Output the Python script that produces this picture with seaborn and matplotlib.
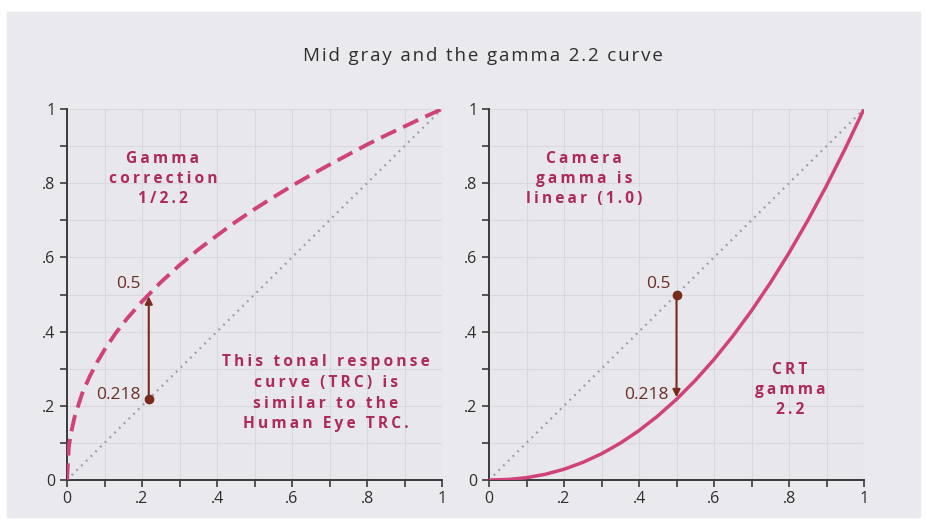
import matplotlib
matplotlib.use("Agg")
import matplotlib.pyplot as plt
import pandas as pd
import seaborn as sns
from matplotlib.patches import Rectangle

# gamma correction curve (1/2.2)
corr_x = [0, 0.005, 0.01, 0.02, 0.04, 0.06, 0.08, 0.1, 0.13, 0.16, 0.2, 0.25, 0.3, 0.35,
          0.4, 0.45, 0.5, 0.55, 0.6, 0.65, 0.7, 0.75, 0.8, 0.85, 0.9, 0.95, 1.0]
corr_y = [0, 0.090, 0.123, 0.169, 0.232, 0.278, 0.317, 0.351, 0.396, 0.435, 0.481, 0.533, 0.579, 0.621,
          0.659, 0.696, 0.730, 0.762, 0.793, 0.822, 0.850, 0.877, 0.904, 0.929, 0.953, 0.977, 1.0]

# CRT gamma 2.2 curve
crt_x = [0, 0.05, 0.1, 0.15, 0.2, 0.25, 0.3, 0.35, 0.4, 0.45, 0.5, 0.55, 0.6, 0.65,
         0.7, 0.75, 0.8, 0.85, 0.9, 0.95, 1.0]
crt_y = [0, 0.0014, 0.0063, 0.0154, 0.029, 0.0474, 0.0707, 0.0993, 0.1332, 0.1726, 0.2176, 0.2684,
         0.325, 0.3876, 0.4563, 0.5311, 0.6121, 0.6994, 0.7931, 0.8933, 1.0]

linear = [0, 1]
mid_in = 0.218
mid_out = 0.5

ticks = [0, 0.2, 0.4, 0.6, 0.8, 1.0]
tick_labels = ["0", ".2", ".4", ".6", ".8", "1"]
minor = [0.1, 0.3, 0.5, 0.7, 0.9]

title = "Mid gray and the gamma 2.2 curve"
left_note = "Gamma\ncorrection\n1/2.2"
trc_note = "This tonal response\ncurve (TRC) is\nsimilar to the\nHuman Eye TRC."
camera_note = "Camera\ngamma is\nlinear (1.0)"
crt_note = "CRT\ngamma\n2.2"

PINK = "#d0437a"
CRIMSON = "#ad2a5c"
BROWN = "#7a2c1c"
LABEL = "#6a2e22"
PANEL = "#eaeaee"
FONTS = ["Open Sans", "DejaVu Sans"]


def spaced(s, sep="\u2009"):
    # wide letter spacing like the slide
    return "\n".join(sep.join(line) for line in s.split("\n"))


sns.set_style("white")
plt.rcParams["font.family"] = FONTS
plt.rcParams["axes.facecolor"] = "#e8e8ec"

fig = plt.figure(figsize=(9.26, 5.24), dpi=100)
fig.patch.set_facecolor("white")
fig.patches.append(Rectangle((7 / 926, 7 / 524), 913 / 926, 505 / 524,
                             transform=fig.transFigure, color=PANEL, zorder=-10))

ax1 = fig.add_axes([67 / 926, 44 / 524, 375 / 926, 371 / 524])
ax2 = fig.add_axes([489 / 926, 44 / 524, 375 / 926, 371 / 524])

for ax in (ax1, ax2):
    ax.set_facecolor("#e8e8ec")
    ax.set_xlim(0, 1)
    ax.set_ylim(0, 1)
    ax.set_xticks(ticks)
    ax.set_xticklabels(tick_labels)
    ax.set_yticks(ticks)
    ax.set_yticklabels(tick_labels)
    ax.set_xticks(minor, minor=True)
    ax.set_yticks(minor, minor=True)
    ax.grid(True, which="both", color="#d8d8dd", lw=0.8)
    ax.set_axisbelow(True)
    for side in ("top", "right"):
        ax.spines[side].set_visible(False)
    for side in ("left", "bottom"):
        ax.spines[side].set_color("#3a3a3a")
        ax.spines[side].set_linewidth(1.4)
    ax.tick_params(which="both", direction="out", length=5, width=1.2, color="#3a3a3a",
                   labelsize=11.5, labelcolor="#2e2e2e", bottom=True, left=True)
    ax.tick_params(axis="x", pad=3)
    ax.set_xlabel("")
    ax.set_ylabel("")
    sns.lineplot(x=linear, y=linear, ax=ax, color="#9a9a9e", lw=1.6,
                 linestyle=(0, (0.8, 2.2)), zorder=2)

# left panel: gamma correction
sns.lineplot(x=corr_x, y=corr_y, ax=ax1, color=PINK, lw=2.8, zorder=3,
             linestyle=(0, (4.3, 2.0)), sort=False, estimator=None)
ax1.annotate("", xy=(mid_in, mid_out - 0.005), xytext=(mid_in, mid_in),
             arrowprops=dict(arrowstyle="-|>", color=BROWN, lw=1.5, mutation_scale=11,
                             shrinkA=0, shrinkB=0), zorder=4)
ax1.plot([mid_in], [mid_in], "o", color=BROWN, ms=6, zorder=5)
ax1.text(mid_in - 0.022, 0.527, "0.5", ha="right", va="center", fontsize=12.5, color=LABEL)
ax1.text(mid_in - 0.022, 0.228, "0.218", ha="right", va="center", fontsize=12.5, color=LABEL)
ax1.text(0.256, 0.812, spaced(left_note), ha="center", va="center", fontsize=11.2,
         fontweight="bold", color=CRIMSON, linespacing=1.35)
ax1.text(0.69, 0.234, spaced(trc_note), ha="center", va="center", fontsize=11.2,
         fontweight="bold", color=CRIMSON, linespacing=1.4)

# right panel: CRT gamma
sns.lineplot(x=crt_x, y=crt_y, ax=ax2, color=PINK, lw=2.5, zorder=3, sort=False, estimator=None)
ax2.annotate("", xy=(mid_out, mid_in + 0.005), xytext=(mid_out, mid_out),
             arrowprops=dict(arrowstyle="-|>", color=BROWN, lw=1.5, mutation_scale=11,
                             shrinkA=0, shrinkB=0), zorder=4)
ax2.plot([mid_out], [mid_out], "o", color=BROWN, ms=6, zorder=5)
ax2.text(mid_out - 0.015, 0.527, "0.5", ha="right", va="center", fontsize=12.5, color=LABEL)
ax2.text(mid_out - 0.022, 0.228, "0.218", ha="right", va="center", fontsize=12.5, color=LABEL)
ax2.text(0.253, 0.812, spaced(camera_note), ha="center", va="center", fontsize=11.2,
         fontweight="bold", color=CRIMSON, linespacing=1.35)
ax2.text(0.803, 0.243, spaced(crt_note), ha="center", va="center", fontsize=11.2,
         fontweight="bold", color=CRIMSON, linespacing=1.35)

fig.text(483 / 926, 1 - 56 / 524, spaced(title, "\u200a"), ha="center", va="center",
         fontsize=13.5, color="#2e2e2e")

fig.savefig("out.png", dpi=100)
plt.close(fig)
